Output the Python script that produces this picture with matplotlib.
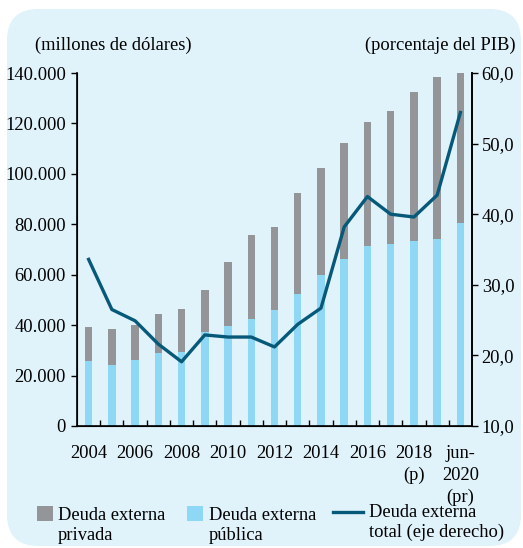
import matplotlib
matplotlib.use("Agg")
import matplotlib.pyplot as plt
from matplotlib.patches import FancyBboxPatch, Rectangle
from matplotlib.lines import Line2D
import numpy as np

plt.rcParams['font.family'] = ['Liberation Serif', 'DejaVu Serif']

categories = ['2004', '2005', '2006', '2007', '2008', '2009', '2010', '2011', '2012',
              '2013', '2014', '2015', '2016', '2017', '2018', '2019', 'jun-2020']
publica = [25900, 24200, 26300, 28800, 29500, 37200, 39700, 42500, 46100,
           52300, 59900, 66400, 71200, 72000, 73200, 74000, 80500]
total_usd = [39400, 38500, 40100, 44600, 46500, 53900, 64900, 75700, 78900,
             92300, 102300, 112200, 120700, 125000, 132400, 138400, 140000]
privada = [t - p for t, p in zip(total_usd, publica)]
pct_pib = [33.6, 26.5, 24.9, 21.6, 19.1, 22.9, 22.6, 22.6, 21.2,
           24.4, 26.7, 38.2, 42.5, 40.0, 39.6, 42.7, 54.4]
xtick_labels = ['2004', '2006', '2008', '2010', '2012', '2014', '2016',
                '2018\n(p)', 'jun-\n2020\n(pr)']
left_ticks = [0, 20000, 40000, 60000, 80000, 100000, 120000, 140000]
right_ticks = [10, 20, 30, 40, 50, 60]

FS = 13.3
W, H = 523, 548
fig = plt.figure(figsize=(W / 100, H / 100), dpi=100)
fig.patch.set_facecolor('white')

bg = FancyBboxPatch((7 / W, 2 / H), (W - 9) / W, (H - 11) / H,
                    boxstyle="round,pad=0,rounding_size=0.06",
                    transform=fig.transFigure, facecolor='#E0F2FA',
                    edgecolor='none', zorder=-10, mutation_aspect=W / H)
fig.patches.append(bg)

ax = fig.add_axes([77 / W, 1 - 426 / H, (472 - 77) / W, (426 - 73) / H])
ax.set_facecolor('none')
x = np.arange(len(categories))
bw = 0.32
c_pub = '#8FD8F5'
c_priv = '#939598'
c_line = '#07597A'
ax.bar(x, publica, width=bw, color=c_pub, zorder=2)
ax.bar(x, privada, width=bw, bottom=publica, color=c_priv, zorder=2)
ax.set_xlim(-0.5, len(categories) - 0.5)
ax.set_ylim(0, 140000)
ax.set_yticks(left_ticks)
ax.set_yticklabels([f"{v:,}".replace(',', '.') for v in left_ticks], fontsize=FS)
ax.set_xticks(x[::2])
ax.set_xticklabels(xtick_labels, fontsize=FS, va='top')
for lab in ax.get_xticklabels():
    lab.set_linespacing(1.38)
ax.set_xticks(np.arange(0.5, len(categories) - 0.5, 1), minor=True)
ax.tick_params(axis='x', which='major', length=0, pad=13.5)
ax.tick_params(axis='x', which='minor', direction='in', length=4, width=1)
ax.tick_params(axis='y', direction='out', length=4, width=1, pad=4)
ax.spines['top'].set_visible(False)
for s in ['left', 'bottom', 'right']:
    ax.spines[s].set_linewidth(1.2)

ax2 = ax.twinx()
ax2.plot(x, pct_pib, color=c_line, linewidth=2.4, zorder=3)
ax2.set_ylim(10, 60)
ax2.set_yticks(right_ticks)
ax2.set_yticklabels([f"{v:.1f}".replace('.', ',') for v in right_ticks], fontsize=FS)
ax2.tick_params(axis='y', direction='out', length=4, width=1, pad=3)
ax2.spines['top'].set_visible(False)
ax2.spines['right'].set_linewidth(1.2)
ax2.set_xlim(-0.5, len(categories) - 0.5)

fig.text(35 / W, 1 - 45 / H, '(millones de dólares)', fontsize=FS, va='center', ha='left')
fig.text(516 / W, 1 - 45 / H, '(porcentaje del PIB)', fontsize=FS, va='center', ha='right')

# legend
def fy(v):
    return 1 - v / H

fig.patches.append(Rectangle((37 / W, fy(521)), 16 / W, 15 / H, transform=fig.transFigure,
                             facecolor=c_priv, edgecolor='none'))
fig.text(58 / W, fy(520), 'Deuda externa', fontsize=FS, va='baseline', ha='left')
fig.text(58 / W, fy(540), 'privada', fontsize=FS, va='baseline', ha='left')
fig.patches.append(Rectangle((187 / W, fy(521)), 16 / W, 15 / H, transform=fig.transFigure,
                             facecolor=c_pub, edgecolor='none'))
fig.text(209 / W, fy(520), 'Deuda externa', fontsize=FS, va='baseline', ha='left')
fig.text(209 / W, fy(540), 'pública', fontsize=FS, va='baseline', ha='left')
fig.lines.append(Line2D([333 / W, 363 / W], [fy(512), fy(512)], transform=fig.transFigure,
                        color=c_line, linewidth=2.4))
fig.text(369 / W, fy(517), 'Deuda externa', fontsize=FS, va='baseline', ha='left')
fig.text(369 / W, fy(537), 'total (eje derecho)', fontsize=FS, va='baseline', ha='left')

fig.savefig('out.png', dpi=100, facecolor='white')
